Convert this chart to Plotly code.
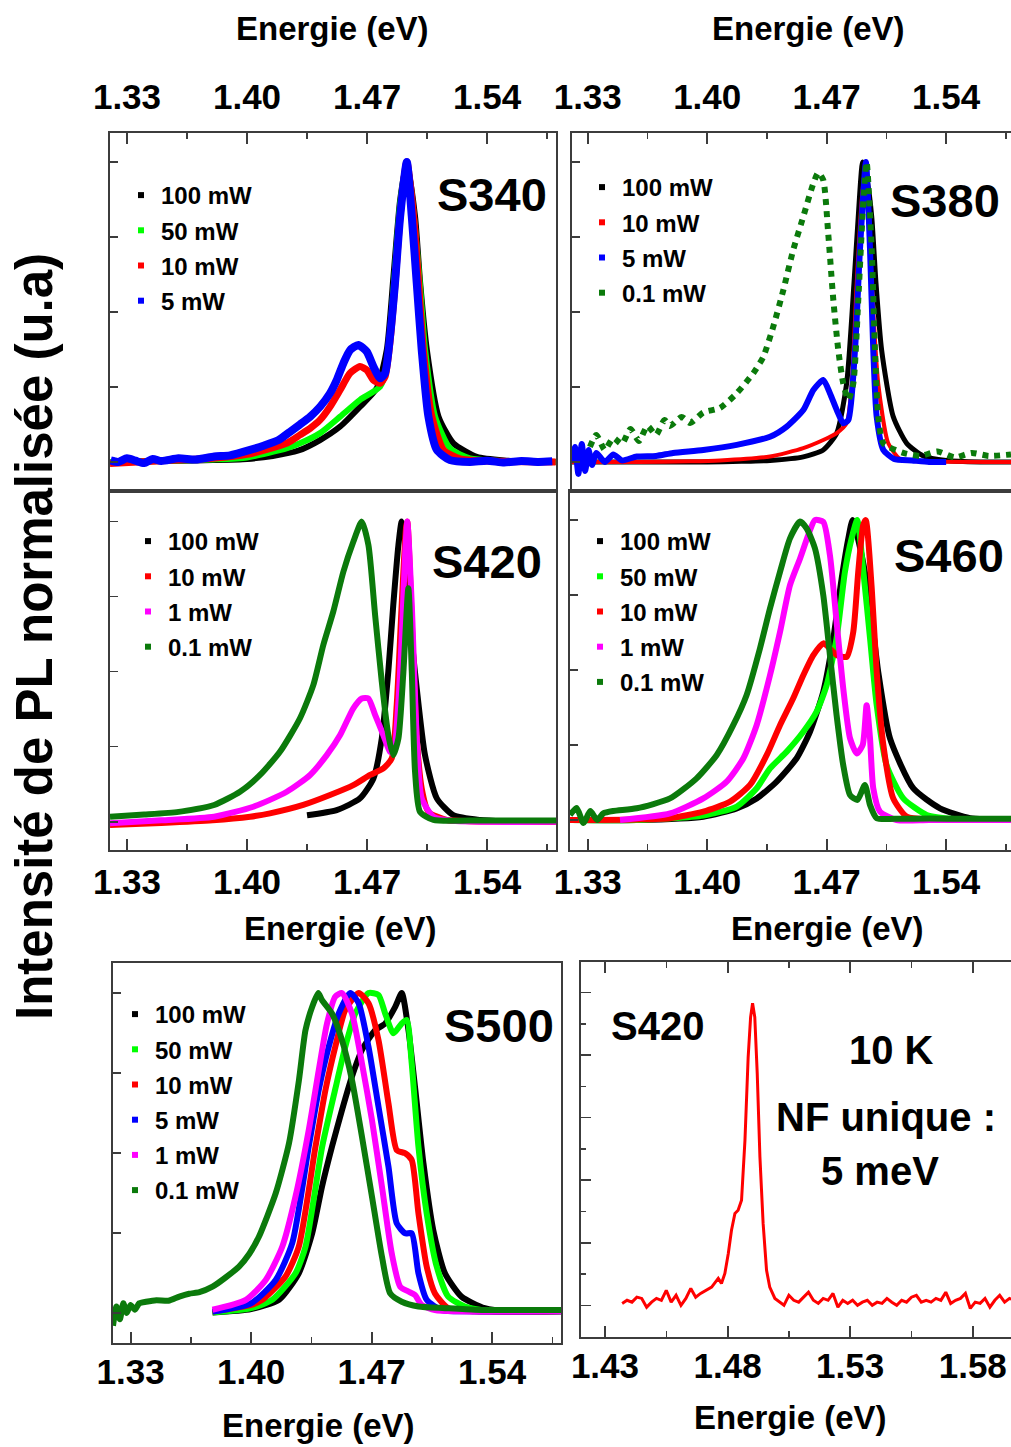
import plotly.graph_objects as go

W, H = 1011, 1447
FONT = "Liberation Sans, Arial, Helvetica, sans-serif"
AXC = "#3c3c3c"

BLACK = "#000000"
LIME = "#00ff00"
RED = "#ff0000"
BLUE = "#0000ff"
MAGENTA = "#ff00ff"
DKGREEN = "#0b7a0b"

# ---------------- S340 ----------------
S340_E_100 = [1.3201, 1.34, 1.36, 1.38, 1.40, 1.415, 1.43, 1.4426, 1.4543, 1.4659, 1.4757, 1.4815, 1.4854, 1.4893,
              1.4932, 1.4980, 1.5010, 1.5049, 1.5117, 1.5204, 1.5340, 1.55, 1.565, 1.58]
S340_I_100 = [0.0, 0.002, 0.004, 0.006, 0.01, 0.02, 0.038, 0.073, 0.118, 0.184, 0.246, 0.373, 0.618, 0.873,
              1.0, 0.818, 0.596, 0.373, 0.151, 0.062, 0.017, 0.005, 0.002, 0.0]
S340_E_50 = [1.3201, 1.35, 1.38, 1.40, 1.4234, 1.4309, 1.4426, 1.4543, 1.4659, 1.4776, 1.4815, 1.4854, 1.4893,
             1.4932, 1.4975, 1.5010, 1.5039, 1.5097, 1.5184, 1.5300, 1.545, 1.58]
S340_I_50 = [0.0, 0.003, 0.008, 0.015, 0.046, 0.062, 0.096, 0.151, 0.207, 0.251, 0.318, 0.573, 0.86,
             1.0, 0.81, 0.58, 0.373, 0.151, 0.045, 0.012, 0.004, 0.0]
S340_E_10 = [1.3201, 1.35, 1.38, 1.40, 1.4234, 1.4309, 1.4368, 1.4426, 1.4484, 1.4543, 1.4601, 1.4659, 1.4698,
             1.4737, 1.4776, 1.4805, 1.4834, 1.4863, 1.4893, 1.4932, 1.4975, 1.5029, 1.5078, 1.5146, 1.5243, 1.54, 1.58]
S340_I_10 = [-0.005, 0.004, 0.012, 0.025, 0.063, 0.09, 0.112, 0.14, 0.184, 0.24, 0.296, 0.318, 0.307,
             0.273, 0.262, 0.284, 0.40, 0.59, 0.82, 1.0, 0.80, 0.373, 0.151, 0.04, 0.01, 0.003, 0.0]
S340_E_5 = [1.3205, 1.325, 1.33, 1.335, 1.34, 1.345, 1.35, 1.36, 1.37, 1.3809, 1.39, 1.4018, 1.41, 1.4184, 1.4250,
            1.4309, 1.4368, 1.4426, 1.4484, 1.4523, 1.4562, 1.4601, 1.4649, 1.4698, 1.4737, 1.4776, 1.4805, 1.4834,
            1.4863, 1.4893, 1.4932, 1.4961, 1.4990, 1.5019, 1.5058, 1.5107, 1.5184, 1.53, 1.54, 1.55, 1.56, 1.57, 1.578]
S340_I_5 = [0.005, 0.0, 0.012, 0.004, -0.004, 0.01, 0.003, 0.012, 0.008, 0.018, 0.022, 0.04, 0.055, 0.073, 0.1,
            0.125, 0.151, 0.184, 0.229, 0.273, 0.329, 0.373, 0.39, 0.368, 0.318, 0.279, 0.296, 0.418,
            0.596, 0.818, 1.0, 0.818, 0.596, 0.373, 0.151, 0.04, 0.006, 0.0, 0.004, -0.002, 0.003, 0.0, 0.002]

# ---------------- S380 ----------------
S380_E_100 = [1.3206, 1.36, 1.40, 1.42, 1.4368, 1.4563, 1.468, 1.4759, 1.4817, 1.486, 1.4885, 1.4911, 1.4940,
              1.4964, 1.4989, 1.5022, 1.509, 1.5169, 1.5266, 1.54, 1.56, 1.578]
S380_I_100 = [0.0, 0.0, 0.0, 0.002, 0.005, 0.017, 0.04, 0.096, 0.262, 0.596, 0.818, 1.0, 0.93,
              0.818, 0.596, 0.373, 0.151, 0.062, 0.02, 0.005, 0.0, 0.0]
S380_E_10 = [1.3206, 1.36, 1.39, 1.4075, 1.4368, 1.4563, 1.468, 1.4759, 1.4817, 1.4847, 1.4876, 1.4905, 1.4930,
             1.4964, 1.5002, 1.5061, 1.513, 1.525, 1.578]
S380_I_10 = [0.0, 0.0, 0.002, 0.005, 0.018, 0.046, 0.073, 0.096, 0.129, 0.262, 0.596, 0.873, 1.0,
             0.596, 0.262, 0.062, 0.01, 0.002, 0.0]
S380_E_5 = [1.3206, 1.3225, 1.3245, 1.3265, 1.3285, 1.3305, 1.3325, 1.335, 1.34, 1.345, 1.35, 1.3587, 1.37, 1.38,
            1.3977, 1.4173, 1.4368, 1.4466, 1.4563, 1.4622, 1.468, 1.4719, 1.4759, 1.4797, 1.4827, 1.4866, 1.4895,
            1.493, 1.4954, 1.4973, 1.4993, 1.5032, 1.5095, 1.52, 1.53, 1.54]
S380_I_5 = [0.0, 0.05, -0.04, 0.06, -0.03, 0.04, -0.01, 0.03, 0.0, 0.025, 0.005, 0.018, 0.02, 0.03,
            0.04, 0.057, 0.084, 0.118, 0.173, 0.24, 0.273, 0.229, 0.173, 0.129, 0.14, 0.373, 0.707,
            1.0, 0.707, 0.373, 0.151, 0.04, 0.01, 0.005, 0.0, 0.0]
S380_E_01 = [1.3313, 1.335, 1.34, 1.345, 1.35, 1.355, 1.36, 1.365, 1.37, 1.375, 1.3782, 1.385, 1.39, 1.3977,
             1.4075, 1.4173, 1.427, 1.4329, 1.4387, 1.4446, 1.4504, 1.4563, 1.4622, 1.4651, 1.468, 1.4709, 1.4739,
             1.4768, 1.4797, 1.4827, 1.4856, 1.4885, 1.4915, 1.4934, 1.4964, 1.4983, 1.5002, 1.5032, 1.5149,
             1.525, 1.535, 1.545, 1.555, 1.565, 1.578]
S380_I_01 = [0.05, 0.09, 0.04, 0.08, 0.06, 0.11, 0.07, 0.12, 0.09, 0.14, 0.12, 0.15, 0.13, 0.165,
             0.18, 0.229, 0.296, 0.351, 0.451, 0.573, 0.707, 0.818, 0.929, 0.965, 0.94, 0.762, 0.54,
             0.373, 0.262, 0.207, 0.262, 0.54, 0.873, 1.0, 0.707, 0.373, 0.151, 0.062, 0.03,
             0.02, 0.035, 0.015, 0.03, 0.02, 0.025]

# ---------------- S420 ----------------
S420_E_100 = [1.435, 1.4523, 1.4659, 1.4737, 1.4786, 1.4824, 1.4853, 1.4883, 1.4902, 1.4922, 1.4951, 1.499,
              1.5038, 1.5107, 1.5203, 1.5359, 1.55, 1.5802]
S420_I_100 = [0.022, 0.039, 0.078, 0.144, 0.278, 0.5, 0.722, 0.922, 1.0, 0.944, 0.667, 0.444,
              0.222, 0.078, 0.022, 0.006, 0.002, 0.0]
S420_E_10 = [1.3201, 1.35, 1.38, 1.4018, 1.4134, 1.4328, 1.4484, 1.462, 1.4718, 1.4795, 1.4844, 1.4873, 1.4902,
             1.4928, 1.4935, 1.4961, 1.499, 1.5019, 1.5058, 1.5165, 1.53, 1.5802]
S420_I_10 = [-0.011, -0.004, 0.005, 0.017, 0.028, 0.056, 0.089, 0.122, 0.156, 0.178, 0.211, 0.389, 0.722,
             0.983, 1.0, 0.667, 0.278, 0.111, 0.033, 0.006, 0.002, 0.0]
S420_E_1 = [1.3201, 1.35, 1.3808, 1.4037, 1.4232, 1.4368, 1.4465, 1.4543, 1.462, 1.4669, 1.4708, 1.4747, 1.4795,
            1.4834, 1.4853, 1.4883, 1.4902, 1.4922, 1.4935, 1.4961, 1.499, 1.5019, 1.5087, 1.52, 1.5802]
S420_I_1 = [-0.005, 0.005, 0.017, 0.05, 0.1, 0.156, 0.222, 0.289, 0.378, 0.411, 0.411, 0.356, 0.289,
            0.233, 0.23, 0.40, 0.611, 0.889, 1.0, 0.722, 0.278, 0.078, 0.017, 0.003, 0.0]
S420_E_01 = [1.3201, 1.34, 1.3601, 1.3808, 1.3959, 1.4076, 1.4192, 1.4309, 1.4387, 1.4445, 1.4503, 1.4562, 1.462,
             1.4669, 1.4708, 1.4747, 1.4786, 1.4824, 1.4853, 1.4883, 1.4912, 1.4941, 1.4961, 1.498, 1.5009, 1.5087,
             1.53, 1.5802]
S420_I_01 = [0.017, 0.024, 0.033, 0.056, 0.1, 0.156, 0.233, 0.345, 0.456, 0.589, 0.7, 0.833, 0.933,
             1.0, 0.922, 0.689, 0.467, 0.289, 0.222, 0.278, 0.5, 0.778, 0.5, 0.167, 0.033, 0.006,
             0.004, 0.004]

# ---------------- S460 ----------------
S460_E_100 = [1.3196, 1.3587, 1.3977, 1.4173, 1.429, 1.4407, 1.4524, 1.4602, 1.468, 1.4739, 1.4788, 1.4827, 1.4852,
              1.4905, 1.4954, 1.5002, 1.5071, 1.5207, 1.5364, 1.554, 1.578]
S460_I_100 = [0.0, 0.0, 0.011, 0.039, 0.072, 0.128, 0.206, 0.294, 0.428, 0.606, 0.806, 0.939, 1.0,
              0.883, 0.717, 0.494, 0.272, 0.106, 0.039, 0.006, 0.0]
S460_E_50 = [1.3196, 1.3587, 1.3977, 1.4173, 1.429, 1.4368, 1.4466, 1.4563, 1.4641, 1.47, 1.4758, 1.4807, 1.4846,
             1.4879, 1.4915, 1.4954, 1.4993, 1.5051, 1.5149, 1.5286, 1.545, 1.578]
S460_I_50 = [0.0, 0.0, 0.015, 0.045, 0.106, 0.172, 0.228, 0.294, 0.361, 0.45, 0.606, 0.828, 0.939,
             1.0, 0.828, 0.606, 0.383, 0.183, 0.072, 0.017, 0.003, 0.0]
S460_E_10 = [1.3196, 1.3587, 1.3782, 1.3977, 1.4134, 1.4251, 1.4349, 1.4427, 1.4504, 1.4563, 1.4622, 1.468, 1.4719,
             1.4758, 1.4817, 1.4856, 1.4885, 1.4914, 1.4929, 1.4964, 1.4993, 1.5032, 1.509, 1.5169, 1.53, 1.578]
S460_I_10 = [0.0, 0.002, 0.006, 0.028, 0.061, 0.117, 0.217, 0.317, 0.406, 0.483, 0.55, 0.589, 0.572,
             0.55, 0.544, 0.628, 0.828, 0.983, 1.0, 0.772, 0.494, 0.25, 0.072, 0.011, 0.002, 0.0]
S460_E_1 = [1.3489, 1.3782, 1.3977, 1.4114, 1.4212, 1.429, 1.4368, 1.4427, 1.4485, 1.4544, 1.4592, 1.4631, 1.468,
            1.4719, 1.4758, 1.4797, 1.4837, 1.4876, 1.4911, 1.4934, 1.4954, 1.4973, 1.5012, 1.511, 1.53, 1.578]
S460_I_1 = [0.0, 0.022, 0.072, 0.128, 0.206, 0.317, 0.483, 0.628, 0.783, 0.872, 0.95, 1.0, 0.994,
            0.883, 0.661, 0.439, 0.272, 0.222, 0.25, 0.383, 0.272, 0.106, 0.028, 0.0, 0.0, 0.0]
S460_E_01 = [1.3196, 1.3235, 1.3275, 1.3315, 1.3355, 1.3391, 1.345, 1.3587, 1.3782, 1.3938, 1.4056, 1.4153, 1.4231,
             1.4309, 1.4368, 1.4427, 1.4485, 1.4544, 1.4583, 1.4631, 1.468, 1.4719, 1.4758, 1.4797, 1.4837, 1.488,
             1.4924, 1.4954, 1.4993, 1.51, 1.53, 1.55, 1.578]
S460_I_01 = [0.017, 0.04, -0.01, 0.03, 0.0, 0.022, 0.03, 0.039, 0.072, 0.139, 0.217, 0.317, 0.417,
             0.572, 0.706, 0.828, 0.939, 0.995, 0.972, 0.906, 0.75, 0.55, 0.35, 0.183, 0.083, 0.067,
             0.117, 0.05, 0.006, 0.004, 0.005, 0.004, 0.004]

# ---------------- S500 ----------------
S500_E_100 = [1.3776, 1.40, 1.4162, 1.4277, 1.4355, 1.4412, 1.447, 1.4528, 1.4586, 1.4644, 1.4721, 1.4779, 1.4837,
              1.4875, 1.4914, 1.4952, 1.5001, 1.5058, 1.5126, 1.5222, 1.5357, 1.55, 1.58]
S500_I_100 = [0.001, 0.012, 0.041, 0.124, 0.249, 0.395, 0.52, 0.634, 0.739, 0.822, 0.884, 0.905, 0.957,
              1.0, 0.884, 0.707, 0.468, 0.259, 0.124, 0.051, 0.015, 0.005, 0.005]
S500_E_50 = [1.3776, 1.40, 1.4123, 1.4258, 1.4316, 1.4413, 1.4489, 1.4547, 1.4605, 1.4682, 1.474, 1.4779, 1.4827,
             1.4875, 1.4904, 1.4933, 1.4972, 1.502, 1.5078, 1.5145, 1.5242, 1.54, 1.58]
S500_I_50 = [0.001, 0.015, 0.041, 0.124, 0.207, 0.52, 0.70, 0.832, 0.936, 1.0, 0.994, 0.936, 0.874,
             0.905, 0.916, 0.78, 0.52, 0.311, 0.145, 0.051, 0.02, 0.005, 0.005]
S500_E_10 = [1.3776, 1.40, 1.4065, 1.42, 1.4277, 1.4374, 1.4432, 1.4489, 1.4547, 1.4625, 1.4682, 1.474, 1.4798,
             1.4846, 1.4895, 1.4933, 1.4972, 1.502, 1.5068, 1.5145, 1.53, 1.58]
S500_I_10 = [0.004, 0.025, 0.041, 0.114, 0.207, 0.52, 0.697, 0.832, 0.947, 1.0, 0.968, 0.853, 0.655,
             0.509, 0.499, 0.478, 0.311, 0.145, 0.061, 0.015, 0.005, 0.005]
S500_E_5 = [1.3776, 1.40, 1.4143, 1.4239, 1.4335, 1.4393, 1.4451, 1.4509, 1.4576, 1.4625, 1.4682, 1.474, 1.4798,
            1.4846, 1.4895, 1.4933, 1.4972, 1.502, 1.5107, 1.525, 1.58]
S500_I_5 = [0.004, 0.03, 0.103, 0.218, 0.52, 0.697, 0.832, 0.936, 1.0, 0.968, 0.832, 0.645, 0.457,
            0.28, 0.249, 0.249, 0.124, 0.041, 0.009, 0.005, 0.005]
S500_E_1 = [1.3776, 1.397, 1.4085, 1.4181, 1.4258, 1.4335, 1.4393, 1.4441, 1.4489, 1.4528, 1.4586, 1.4644, 1.4702,
            1.476, 1.4817, 1.4866, 1.4914, 1.4952, 1.4991, 1.5068, 1.52, 1.58]
S500_I_1 = [0.01, 0.041, 0.103, 0.207, 0.364, 0.572, 0.759, 0.905, 0.989, 1.0, 0.936, 0.78, 0.603,
            0.395, 0.186, 0.082, 0.067, 0.056, 0.025, 0.009, 0.005, 0.005]
S500_E_01 = [1.3198, 1.3218, 1.3238, 1.3258, 1.3278, 1.33, 1.3325, 1.335, 1.339, 1.345, 1.352, 1.3583, 1.364, 1.37,
             1.3776, 1.385, 1.393, 1.3990, 1.4046, 1.4143, 1.422, 1.4278, 1.4316, 1.4355, 1.439, 1.4412, 1.447,
             1.4528, 1.4586, 1.4644, 1.4702, 1.476, 1.4808, 1.4875, 1.4972, 1.5126, 1.53, 1.55, 1.58]
S500_I_01 = [-0.04, 0.02, -0.02, 0.03, 0.0, 0.025, 0.01, 0.03, 0.035, 0.04, 0.038, 0.051, 0.06, 0.065,
             0.082, 0.11, 0.145, 0.185, 0.239, 0.374, 0.53, 0.728, 0.884, 0.957, 1.0, 0.978, 0.936,
             0.853, 0.728, 0.551, 0.364, 0.176, 0.061, 0.035, 0.02, 0.015, 0.01, 0.009, 0.009]

# ---------------- S420 at 10 K (single nanowire) ----------------
NF_E = [1.437, 1.439, 1.441, 1.443, 1.445, 1.447, 1.449, 1.451, 1.453, 1.455, 1.457, 1.459, 1.461, 1.463, 1.465,
        1.467, 1.469, 1.471, 1.4735, 1.4762, 1.4775, 1.4789, 1.4803, 1.4816, 1.4830, 1.4843, 1.4857, 1.4871, 1.4884,
        1.4894, 1.4902, 1.4911, 1.4921, 1.4932, 1.4945, 1.4959, 1.4972, 1.4993, 1.5013, 1.503, 1.505, 1.507, 1.509,
        1.511, 1.513, 1.515, 1.517, 1.519, 1.521, 1.523, 1.525, 1.527, 1.529, 1.531, 1.533, 1.535, 1.537, 1.539,
        1.541, 1.543, 1.545, 1.547, 1.549, 1.551, 1.553, 1.555, 1.557, 1.559, 1.561, 1.563, 1.565, 1.567, 1.569,
        1.571, 1.573, 1.575, 1.577, 1.579, 1.581, 1.583, 1.585, 1.587, 1.589, 1.591, 1.593, 1.595, 1.597]
NF_I = [0.03, 0.08, 0.05, 0.13, 0.11, -0.03, 0.05, 0.11, 0.08, 0.24, 0.05, 0.16, 0.0, 0.11, 0.27,
        0.13, 0.19, 0.24, 0.29, 0.43, 0.35, 0.51, 0.83, 1.2, 1.47, 1.52, 1.68, 2.64, 3.97,
        4.61, 4.83, 4.61, 3.71, 2.37, 1.31, 0.56, 0.29, 0.11, 0.05, 0.0, 0.16, 0.08, 0.05,
        0.13, 0.21, 0.08, 0.03, 0.11, 0.08, 0.19, -0.03, 0.08, 0.03, 0.08, 0.0, 0.05, 0.08, 0.0,
        0.05, 0.03, 0.11, 0.05, 0.0, 0.08, 0.05, 0.13, 0.16, 0.05, 0.08, 0.05, 0.11, 0.08, 0.21,
        0.03, 0.08, 0.11, 0.19, -0.05, 0.05, 0.03, 0.11, -0.03, 0.08, 0.16, 0.05, 0.11, 0.08]

TICKS_A = [1.33, 1.40, 1.47, 1.54]
TICKS_F = [1.43, 1.48, 1.53, 1.58]


def fx(p):
    return p / W


def fy(p):
    return 1 - p / H


panels = [
    dict(name="S340", xd=(110, 556), yd=(133, 491), xr=(1.3201, 1.5802), yr=(-0.097, 1.097), side="top",
         ymirror=True, leg=(121, 173), lab=(492, 195), standoff=8,
         series=[("100 mW", BLACK, S340_E_100, S340_I_100, 6, "solid"),
                 ("50 mW", LIME, S340_E_50, S340_I_50, 6, "solid"),
                 ("10 mW", RED, S340_E_10, S340_I_10, 7, "solid"),
                 ("5 mW", BLUE, S340_E_5, S340_I_5, 8, "solid")]),
    dict(name="S380", xd=(571.7, 1011), yd=(133, 491), xr=(1.3206, 1.578), yr=(-0.097, 1.097), side="top",
         ymirror=False, leg=(582, 165), lab=(945, 200), standoff=8,
         series=[("100 mW", BLACK, S380_E_100, S380_I_100, 5, "solid"),
                 ("10 mW", RED, S380_E_10, S380_I_10, 4, "solid"),
                 ("5 mW", BLUE, S380_E_5, S380_I_5, 6, "solid"),
                 ("0.1 mW", DKGREEN, S380_E_01, S380_I_01, 6, "dot")]),
    dict(name="S420", xd=(110, 556), yd=(491, 850), xr=(1.3201, 1.5802), yr=(-0.094, 1.102), side="bottom",
         ymirror=True, leg=(128, 519), lab=(487, 561), standoff=0,
         series=[("100 mW", BLACK, S420_E_100, S420_I_100, 6, "solid"),
                 ("10 mW", RED, S420_E_10, S420_I_10, 6, "solid"),
                 ("1 mW", MAGENTA, S420_E_1, S420_I_1, 6, "solid"),
                 ("0.1 mW", DKGREEN, S420_E_01, S420_I_01, 6, "solid")]),
    dict(name="S460", xd=(570, 1011), yd=(491, 850), xr=(1.3196, 1.578), yr=(-0.1, 1.097), side="bottom",
         ymirror=False, leg=(580, 519), lab=(949, 555), standoff=0,
         series=[("100 mW", BLACK, S460_E_100, S460_I_100, 6, "solid"),
                 ("50 mW", LIME, S460_E_50, S460_I_50, 6, "solid"),
                 ("10 mW", RED, S460_E_10, S460_I_10, 6, "solid"),
                 ("1 mW", MAGENTA, S460_E_1, S460_I_1, 6, "solid"),
                 ("0.1 mW", DKGREEN, S460_E_01, S460_I_01, 6, "solid")]),
    dict(name="S500", xd=(113, 561), yd=(963, 1343), xr=(1.3198, 1.58), yr=(-0.094, 1.094), side="bottom",
         ymirror=True, leg=(115, 992), lab=(499, 1025), standoff=-3,
         series=[("100 mW", BLACK, S500_E_100, S500_I_100, 6, "solid"),
                 ("50 mW", LIME, S500_E_50, S500_I_50, 6, "solid"),
                 ("10 mW", RED, S500_E_10, S500_I_10, 6, "solid"),
                 ("5 mW", BLUE, S500_E_5, S500_I_5, 6, "solid"),
                 ("1 mW", MAGENTA, S500_E_1, S500_I_1, 6, "solid"),
                 ("0.1 mW", DKGREEN, S500_E_01, S500_I_01, 6, "solid")]),
    dict(name="NF", xd=(580.7, 1011), yd=(962, 1337), xr=(1.4201, 1.5956), yr=(-0.507, 5.49), side="bottom",
         ymirror=False, leg=None, lab=(657, 1026), standoff=-3,
         series=[("S420 10 K", RED, NF_E, NF_I, 3, "solid")]),
]

tickfont = dict(size=35, family=FONT, color="black", weight="bold")
fig = go.Figure()
layout = dict(width=W, height=H, margin=dict(l=0, r=0, t=0, b=0, autoexpand=False), paper_bgcolor="white",
              plot_bgcolor="white", showlegend=True, annotations=[])

for k, p in enumerate(panels, start=1):
    sfx = "" if k == 1 else str(k)
    xa, ya = "x" + sfx, "y" + sfx
    nf = p["name"] == "NF"
    for (nm, col, ex, iy, lw, dash) in p["series"]:
        line = dict(color=col, width=lw, dash=dash)
        if not nf:
            line.update(shape="spline", smoothing=0.6)
        fig.add_trace(go.Scatter(x=ex, y=iy, mode="lines", xaxis=xa, yaxis=ya, showlegend=False,
                                 line=line, hoverinfo="skip"))
    if p["leg"] is not None:
        legname = "legend" + sfx
        for j, (nm, col, ex, iy, lw, dash) in enumerate(p["series"]):
            fig.add_trace(go.Scatter(x=[None], y=[None], mode="markers", xaxis=xa, yaxis=ya, name=nm,
                                     legend=legname, legendgroup=f"{p['name']}_{j}", showlegend=True,
                                     marker=dict(symbol="square", size=6, color=col)))
        layout[legname] = dict(x=fx(p["leg"][0]), y=fy(p["leg"][1]), xanchor="left", yanchor="top",
                               bgcolor="rgba(0,0,0,0)", borderwidth=0, itemwidth=30, tracegroupgap=1,
                               font=dict(size=24, family=FONT, color="black", weight="bold"))
    xaxis = dict(domain=[fx(p["xd"][0]), fx(p["xd"][1])], range=list(p["xr"]), anchor=ya, side=p["side"],
                 showline=True, linecolor=AXC, linewidth=2, mirror="ticks" if nf else True,
                 ticks="inside", ticklen=11, tickwidth=2, tickcolor=AXC,
                 tickmode="array", tickvals=TICKS_F if nf else TICKS_A,
                 ticktext=[f"{v:.2f}" for v in (TICKS_F if nf else TICKS_A)],
                 tickfont=tickfont, ticklabelstandoff=p["standoff"],
                 minor=dict(ticks="inside", ticklen=6, tickwidth=1.5, tickcolor=AXC,
                            tick0=1.43 if nf else 1.33, dtick=0.025 if nf else 0.035),
                 showgrid=False, zeroline=False, fixedrange=True)
    yaxis = dict(domain=[fy(p["yd"][1]), fy(p["yd"][0])], range=list(p["yr"]), anchor=xa,
                 showline=True, linecolor=AXC, linewidth=2, mirror=p["ymirror"],
                 ticks="inside", ticklen=10 if nf else 8, tickwidth=1.5, tickcolor=AXC,
                 tick0=0, dtick=1 if nf else 0.25, showticklabels=False,
                 showgrid=False, zeroline=False, fixedrange=True)
    if nf:
        yaxis["minor"] = dict(ticks="inside", ticklen=5, tickwidth=1.5, tickcolor=AXC, tick0=0, dtick=0.5)
    layout["xaxis" + sfx] = xaxis
    layout["yaxis" + sfx] = yaxis


def ann(text, cx, cy, size, angle=0):
    return dict(text=text, x=fx(cx), y=fy(cy), xref="paper", yref="paper", showarrow=False,
                xanchor="center", yanchor="middle", textangle=angle,
                font=dict(size=size, family=FONT, color="black", weight="bold"))


for p in panels:
    if p["name"] == "NF":
        layout["annotations"].append(ann("S420", p["lab"][0], p["lab"][1], 40))
    else:
        layout["annotations"].append(ann(p["name"], p["lab"][0], p["lab"][1], 47))

for (cx, cy) in [(332, 28), (808, 28), (340, 928), (827, 928), (318, 1425), (790, 1417)]:
    layout["annotations"].append(ann("Energie (eV)", cx, cy, 33))

layout["annotations"].append(ann("10 K", 891, 1050, 40))
layout["annotations"].append(ann("NF unique :", 886, 1117, 40))
layout["annotations"].append(ann("5 meV", 880, 1171, 40))
layout["annotations"].append(ann("Intensité de PL normalisée (u.a)", 34, 637, 51, angle=-90))

fig.update_layout(**layout)
fig.write_html("out.html", config={"displayModeBar": False, "staticPlot": True},
               post_script="document.body.style.margin='0px';")
